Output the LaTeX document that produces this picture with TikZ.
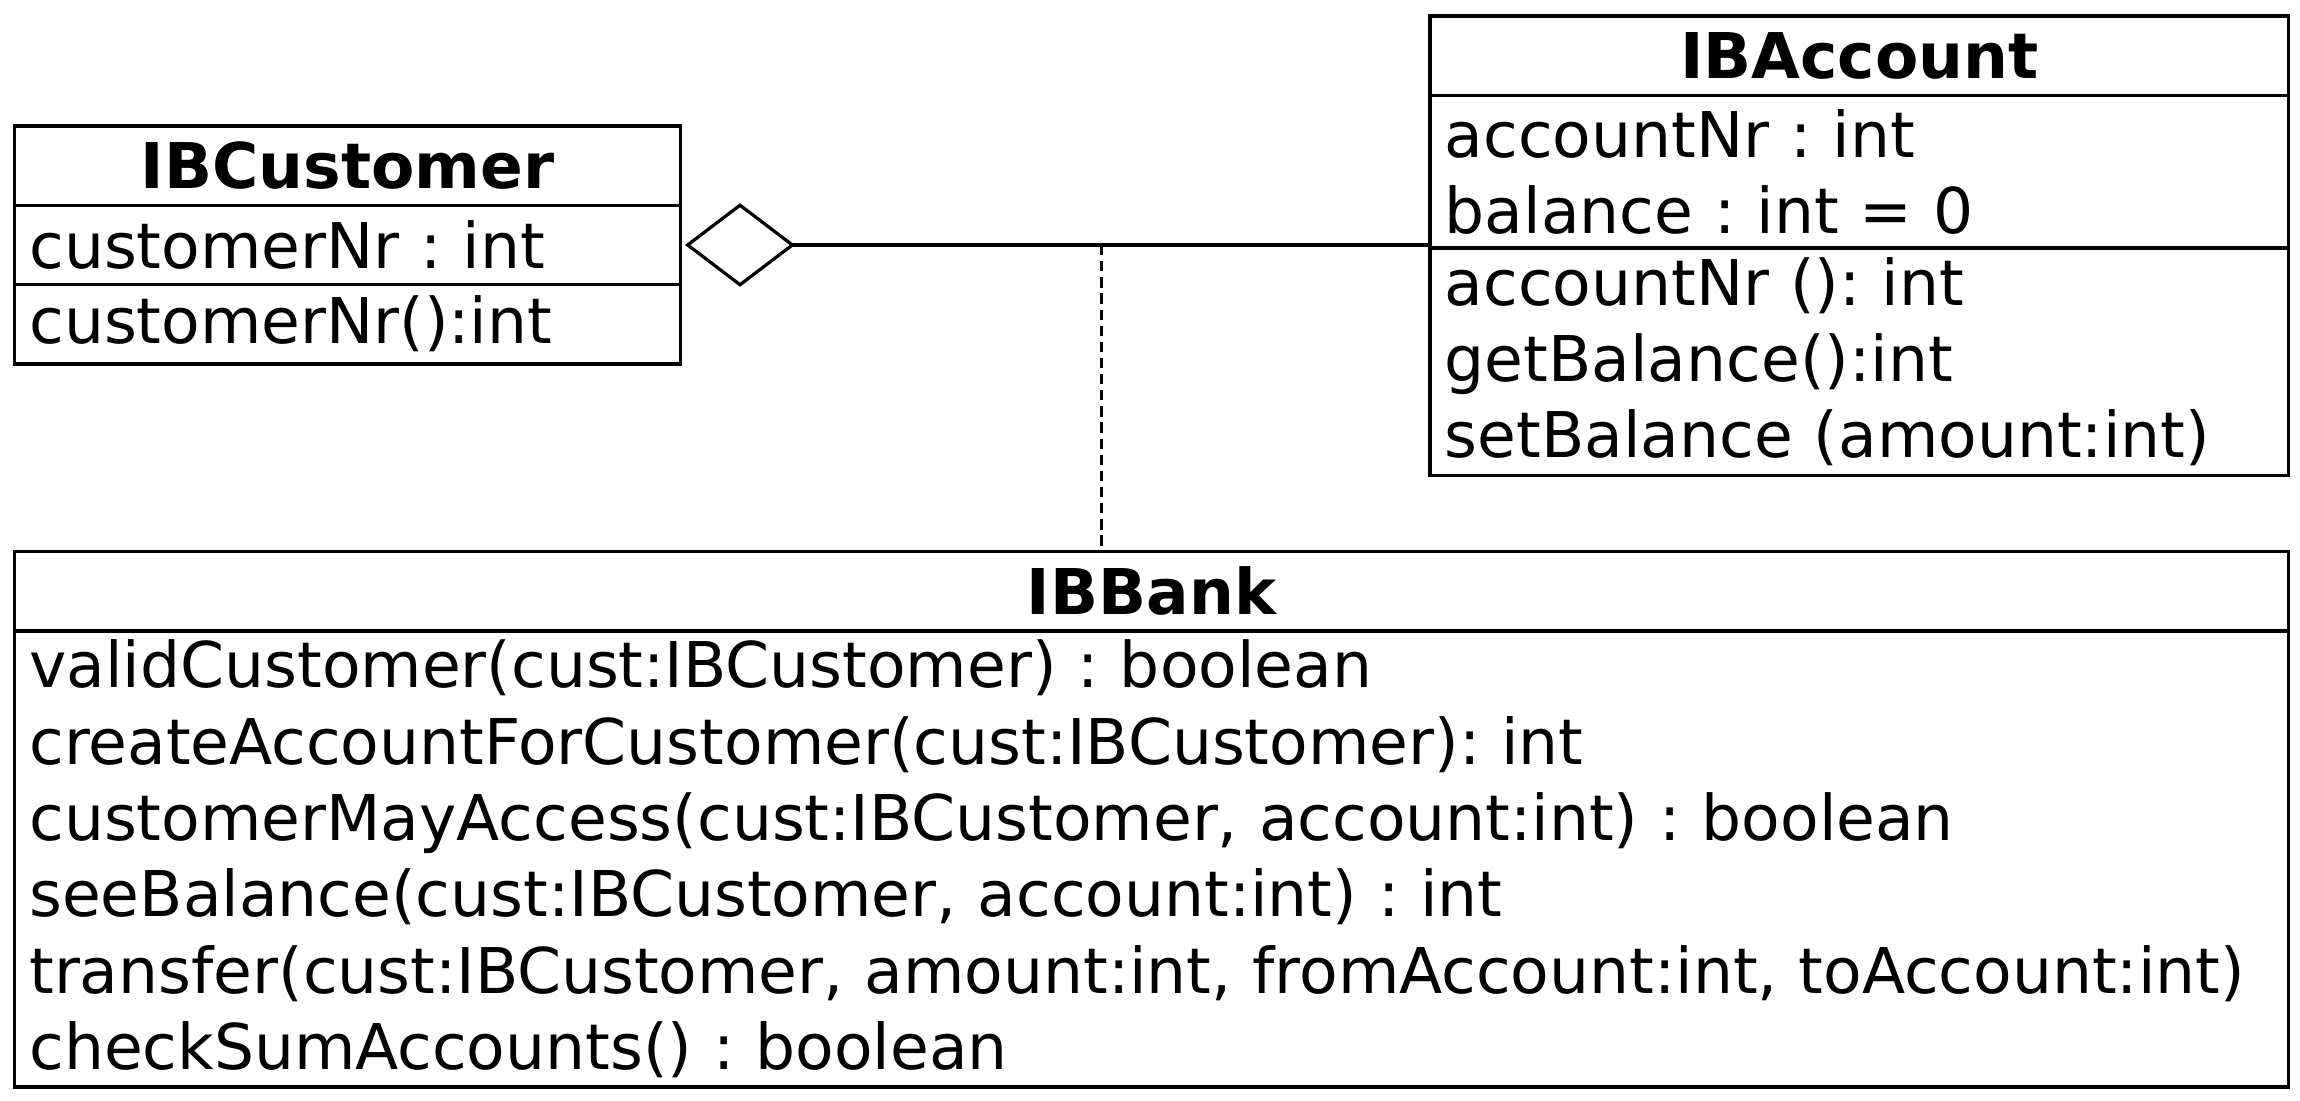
\documentclass[tikz,border=0pt]{standalone}
\usepackage{fontspec}
\setmainfont{DejaVu Sans}
\frenchspacing
\usetikzlibrary{positioning,arrows.meta}
\tikzstyle{classname} = [rectangle, draw=black, line width=1.2pt, minimum height=27pt, inner sep=0pt, outer sep=0pt, text centered, font=\fontsize{21.5}{26}\selectfont\bfseries]
\tikzstyle{members} = [rectangle, draw=black, line width=1.2pt, inner xsep=5pt, inner ysep=0pt, outer sep=0pt, align=left, font=\fontsize{21.5}{26}\selectfont]
\tikzstyle{aggregation} = [line width=1.1pt, {Diamond[open,length=37.5pt,width=28.5pt]}-]
\tikzstyle{dep} = [line width=1.1pt, dash pattern=on 3.5pt off 2pt]

\begin{document}
\begin{tikzpicture}
\useasboundingbox (0,0) rectangle (784pt,-375pt);

% IBCustomer
\node (cust) [classname, minimum width=227pt, anchor=north west] at (5pt,-43pt) {IBCustomer};
\node (custattr) [members, text width=217pt, minimum height=27pt, below=0pt of cust] {customerNr : int};
\node (custop) [members, text width=217pt, minimum height=27pt, below=0pt of custattr] {customerNr():int};

% IBAccount
\node (acc) [classname, minimum width=292.5pt, anchor=north west] at (487.5pt,-5.5pt) {IBAccount};
\node (accattr) [members, text width=282.5pt, minimum height=52pt, below=0pt of acc] {accountNr : int\\balance : int = 0};
\node (accop) [members, text width=282.5pt, minimum height=77.5pt, below=0pt of accattr] {accountNr (): int\\getBalance():int\\setBalance (amount:int)};

% IBBank
\node (bank) [classname, minimum width=775pt, anchor=north west] at (5pt,-188pt) {IBBank};
\node (bankop) [members, text width=765pt, minimum height=155.5pt, below=0pt of bank] {validCustomer(cust:IBCustomer) : boolean\\
createAccountForCustomer(cust:IBCustomer): int\\
customerMayAccess(cust:IBCustomer, account:int) : boolean\\
seeBalance(cust:IBCustomer, account:int) : int\\
transfer(cust:IBCustomer, amount:int, fromAccount:int, toAccount:int)\\
checkSumAccounts() : boolean};

\coordinate (mid) at (375.5pt,-83.5pt);

\draw [aggregation] ([xshift=1.5pt]custattr.east) -- (custattr.east -| accattr.south west);
\draw [dep] (mid) -- (mid |- bank.north);
\end{tikzpicture}
\end{document}
